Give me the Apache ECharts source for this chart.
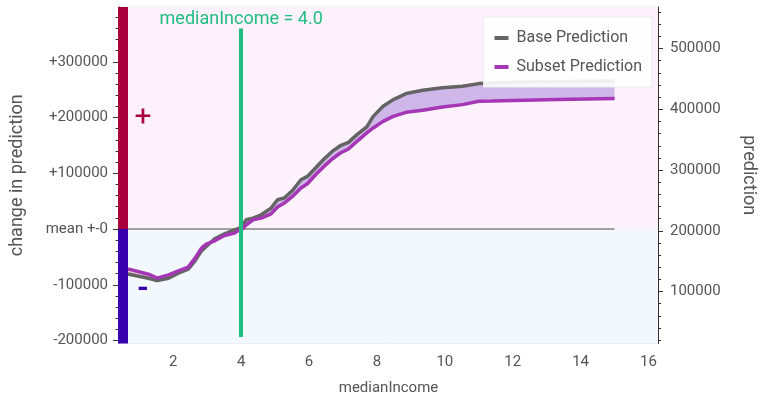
<!DOCTYPE html>
<html>
<head>
<meta charset="utf-8">
<script src="https://cdn.jsdelivr.net/npm/echarts@6/dist/echarts.min.js"></script>
<style>html,body{margin:0;padding:0;background:#fff;}#c{width:765px;height:405px;}</style>
</head>
<body>
<div id="c"></div>
<script>
// ---- data ----
const xValues = [0.5, 0.69, 1.27, 1.52, 1.57, 1.86, 2.15, 2.44, 2.64, 2.83, 2.97, 3.22, 3.51, 3.80, 3.95, 4.01, 4.15, 4.35, 4.59, 4.88, 5.07, 5.27, 5.51, 5.76, 5.95, 6.19, 6.44, 6.68, 6.92, 7.16, 7.41, 7.70, 7.89, 8.18, 8.48, 8.86, 9.35, 9.93, 10.52, 11.0, 11.39, 12.35, 13.34, 15.0];
const basePrediction = [129100, 128600, 122000, 118100, 116400, 122000, 130300, 136900, 150500, 167000, 174100, 186800, 195100, 201600, 204500, 207100, 218100, 220900, 226400, 237400, 251100, 253900, 266400, 284100, 289500, 303400, 318200, 330700, 340100, 345600, 358300, 371000, 388400, 404900, 416000, 425900, 431300, 435300, 437900, 442300, 443200, 444800, 445600, 446500];
const subsetPrediction = [137400, 136900, 128600, 122000, 122500, 127500, 134100, 140200, 155000, 171500, 178100, 183500, 192300, 196200, 201600, 201600, 209900, 218100, 220900, 228000, 239100, 245700, 256500, 270400, 277500, 292300, 306000, 318200, 328100, 334700, 347200, 361100, 369300, 380200, 388400, 395000, 398300, 403900, 407700, 413200, 413500, 414800, 416000, 417600];
const selectedValue = 4.0;
const featureName = 'medianIncome';
const markerRange = [25000, 533000];
const xTicks = [2, 4, 6, 8, 10, 12, 14, 16];
const leftTicks = [-200000, -100000, 0, 100000, 200000, 300000];
const rightTicks = [100000, 200000, 300000, 400000, 500000];
const xRange = [0.4, 16.28];
const leftRange = [-205400, 398300];
const rightRange = [14500, 568400];

// minor ticks
const xMinor = [];
for (let v = 0.8; v < 16.2; v += 0.4) { const r = Math.round(v * 10) / 10; if (Math.abs(r / 2 - Math.round(r / 2)) > 1e-6) xMinor.push(r); }
const leftMinor = [];
for (let v = -200000; v <= 390000; v += 20000) if (v % 100000 !== 0) leftMinor.push(v);
const rightMinor = [];
for (let v = 20000; v <= 560000; v += 20000) if (v % 100000 !== 0) rightMinor.push(v);

const baseData = xValues.map((x, i) => [x, basePrediction[i]]);
const subsetData = xValues.map((x, i) => [x, subsetPrediction[i]]);
const meanData = [[xValues[0], 0], [xValues[xValues.length - 1], 0]];

const FONT = 'Roboto';
const TXT = '#555';
const AX = '#333';
const GREEN = '#1fbd7f';
const FILL_POS = '#cfb7ea';
const FILL_NEG = '#f2c6de';

function renderFill(params, api) {
  const n = xValues.length;
  const children = [];
  const sgn = d => d > 0 ? 1 : (d < 0 ? -1 : 0);
  let topPts = [api.coord([xValues[0], basePrediction[0]])];
  let botPts = [api.coord([xValues[0], subsetPrediction[0]])];
  let sign = sgn(basePrediction[0] - subsetPrediction[0]);
  const emit = (s) => {
    if (topPts.length < 2) return;
    children.push({
      type: 'polygon',
      shape: { points: topPts.concat(botPts.slice().reverse()) },
      style: { fill: s >= 0 ? FILL_POS : FILL_NEG, stroke: null }
    });
  };
  for (let i = 0; i < n - 1; i++) {
    const d0 = basePrediction[i] - subsetPrediction[i];
    const d1 = basePrediction[i + 1] - subsetPrediction[i + 1];
    const s1 = sgn(d1);
    if (sign !== 0 && s1 !== 0 && s1 !== sign) {
      const t = d0 / (d0 - d1);
      const xc = xValues[i] + t * (xValues[i + 1] - xValues[i]);
      const yc = basePrediction[i] + t * (basePrediction[i + 1] - basePrediction[i]);
      const C = api.coord([xc, yc]);
      topPts.push(C); botPts.push(C);
      emit(sign);
      topPts = [C]; botPts = [C];
      sign = s1;
    } else if (sign === 0) {
      sign = s1;
    }
    topPts.push(api.coord([xValues[i + 1], basePrediction[i + 1]]));
    botPts.push(api.coord([xValues[i + 1], subsetPrediction[i + 1]]));
  }
  emit(sign);
  return { type: 'group', children: children };
}

const chart = echarts.init(document.getElementById('c'), null, { renderer: 'canvas' });
const G = { left: 118, right: 103, top: 7, bottom: 61.5 };

chart.setOption({
  animation: false,
  textStyle: { fontFamily: FONT },
  grid: { left: G.left, right: G.right, top: G.top, bottom: G.bottom, show: true, borderColor: '#e4e4e4', borderWidth: 1, backgroundColor: 'transparent' },
  legend: {
    data: ['Base Prediction', 'Subset Prediction'],
    orient: 'vertical', right: 113, top: 17,
    padding: [13, 10, 12, 11], itemGap: 13,
    itemWidth: 14, itemHeight: 4, icon: 'rect', itemStyle: { borderWidth: 0 },
    backgroundColor: 'rgba(255,255,255,0.9)', borderColor: '#ececec', borderWidth: 1,
    textStyle: { fontFamily: FONT, fontSize: 16, color: '#555', padding: [0, 0, 0, 3] }
  },
  xAxis: [
    {
      type: 'value', min: xRange[0], max: xRange[1], position: 'bottom',
      name: featureName, nameLocation: 'middle', nameGap: 37,
      nameTextStyle: { fontFamily: FONT, fontSize: 15, color: TXT },
      axisLine: { show: true, lineStyle: { color: AX, width: 1 } },
      axisTick: { show: true, length: 5, customValues: xTicks, lineStyle: { color: AX } },
      axisLabel: { customValues: xTicks, color: TXT, fontSize: 15, fontFamily: FONT, margin: 11 },
      splitLine: { show: false }
    },
    {
      type: 'value', min: xRange[0], max: xRange[1], position: 'bottom',
      axisLine: { show: false },
      axisTick: { show: true, length: 3, customValues: xMinor, lineStyle: { color: AX } },
      axisLabel: { show: false }, splitLine: { show: false }
    }
  ],
  yAxis: [
    {
      type: 'value', min: leftRange[0], max: leftRange[1], position: 'left',
      name: 'change in prediction', nameLocation: 'middle', nameGap: 93,
      nameTextStyle: { fontFamily: FONT, fontSize: 18, color: TXT },
      axisLine: { show: true, lineStyle: { color: AX } },
      axisTick: { show: true, length: 6, customValues: leftTicks, lineStyle: { color: AX } },
      axisLabel: {
        customValues: leftTicks, color: TXT, fontSize: 15, fontFamily: FONT, margin: 11,
        formatter: v => v === 0 ? 'mean +-0' : (v > 0 ? '+' + v : String(v))
      },
      splitLine: { show: false }
    },
    {
      type: 'value', min: rightRange[0], max: rightRange[1], position: 'right',
      name: 'prediction', nameLocation: 'middle', nameGap: 81, nameRotate: -90,
      nameTextStyle: { fontFamily: FONT, fontSize: 18, color: TXT },
      axisLine: { show: true, lineStyle: { color: AX } },
      axisTick: { show: true, length: 5, customValues: rightTicks, lineStyle: { color: AX } },
      axisLabel: { customValues: rightTicks, color: TXT, fontSize: 15, fontFamily: FONT, margin: 12, formatter: v => String(v) },
      splitLine: { show: false }
    },
    {
      type: 'value', min: leftRange[0], max: leftRange[1], position: 'left',
      axisLine: { show: false },
      axisTick: { show: true, length: 3.5, customValues: leftMinor, lineStyle: { color: AX } },
      axisLabel: { show: false }, splitLine: { show: false }
    },
    {
      type: 'value', min: rightRange[0], max: rightRange[1], position: 'right',
      axisLine: { show: false },
      axisTick: { show: true, length: 3, customValues: rightMinor, lineStyle: { color: AX } },
      axisLabel: { show: false }, splitLine: { show: false }
    }
  ],
  series: [
    {
      name: 'mean', type: 'line', xAxisIndex: 0, yAxisIndex: 0, data: meanData, z: 1,
      symbol: 'none', lineStyle: { color: '#a0a0a0', width: 2 }, silent: true,
      markArea: {
        silent: true,
        data: [
          [{ yAxis: 0, itemStyle: { color: '#fdf2fc' } }, { yAxis: leftRange[1] }],
          [{ yAxis: leftRange[0], itemStyle: { color: '#f3f7fe' } }, { yAxis: 0 }]
        ]
      }
    },
    {
      name: 'fill', type: 'custom', xAxisIndex: 0, yAxisIndex: 1, silent: true, z: 2,
      data: [[xValues[0], basePrediction[0]]],
      renderItem: renderFill, clip: true
    },
    {
      name: 'Base Prediction', type: 'line', yAxisIndex: 1, data: baseData,
      symbol: 'none', color: '#646464', lineStyle: { color: '#646464', width: 3.5 }, z: 3,
      markLine: {
        silent: true, symbol: 'none', animation: false,
        lineStyle: { color: GREEN, width: 4, type: 'solid' },
        label: { show: true, position: 'end', formatter: featureName + ' = ' + selectedValue.toFixed(1), color: GREEN, fontSize: 18, fontFamily: FONT, distance: 0 },
        data: [[{ coord: [selectedValue, markerRange[0]] }, { coord: [selectedValue, markerRange[1]] }]]
      }
    },
    {
      name: 'Subset Prediction', type: 'line', yAxisIndex: 1, data: subsetData,
      symbol: 'none', color: '#a536b5', lineStyle: { color: '#a536b5', width: 3.5 }, z: 3
    }
  ]
});

const yZero = chart.convertToPixel({ yAxisIndex: 0 }, 0);
const yTop = G.top, yBot = 405 - G.bottom;
chart.setOption({
  graphic: [
    { type: 'rect', z: 100, shape: { x: G.left, y: yTop, width: 10, height: yZero - yTop }, style: { fill: '#a8003c' } },
    { type: 'rect', z: 100, shape: { x: G.left, y: yZero, width: 10, height: yBot - yZero }, style: { fill: '#3800ac' } },
    { type: 'text', z: 100, x: 143, y: 118, style: { text: '+', fill: '#a8003c', font: '30px Roboto', align: 'center', verticalAlign: 'middle' } },
    { type: 'text', z: 100, x: 143, y: 289, style: { text: '-', fill: '#3800ac', font: 'bold 30px Roboto', align: 'center', verticalAlign: 'middle' } }
  ]
});
</script>
</body>
</html>
